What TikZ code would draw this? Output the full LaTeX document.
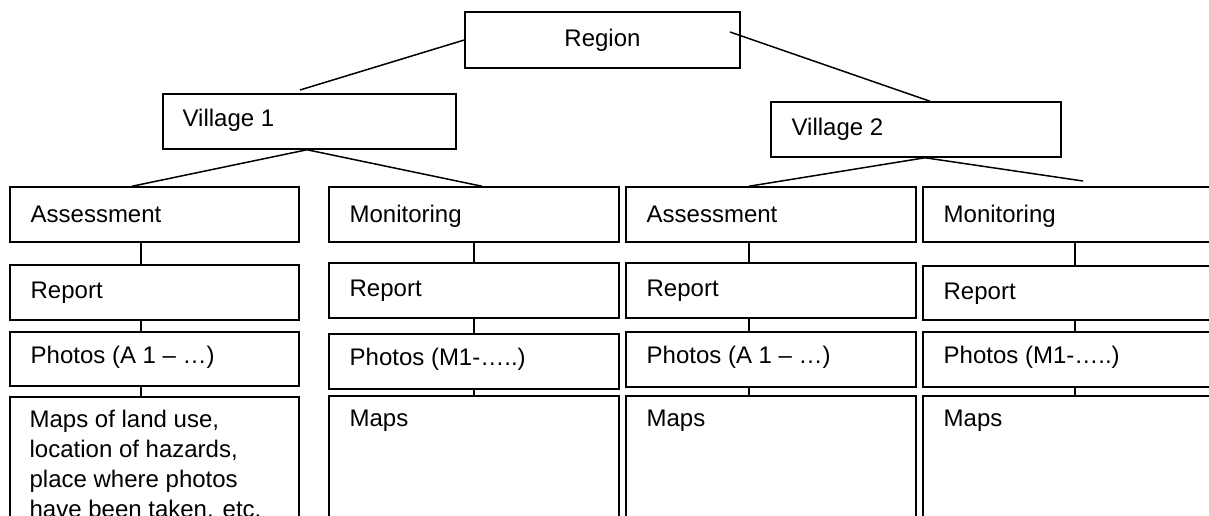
\documentclass[tikz,border=0pt]{standalone}
\usepackage{fontspec}
\setmainfont{Liberation Sans}
\usetikzlibrary{fit}
\begin{document}
\begin{tikzpicture}[x=0.5pt,y=-0.5pt,
  cell/.style={draw, line width=0.75pt, inner sep=0pt, rectangle},
  txt/.style={anchor=base west, inner sep=0pt, font=\fontsize{12}{15}\selectfont},
  link/.style={line width=0.75pt}]
\useasboundingbox (0,0) rectangle (1209,515);
\clip (0,0) rectangle (1209,515);

% top levels
\node[cell, fit={(465,12) (740,68)}] (reg) {};
\node[cell, fit={(163,94) (456,149)}] (v1) {};
\node[cell, fit={(771,102) (1061,157)}] (v2) {};

% column 1 (Village 1, assessment)
\node[cell, fit={(10,187) (299,242)}] (a1) {};
\node[cell, fit={(10,265) (299,320)}] (r1) {};
\node[cell, fit={(10,332) (299,386)}] (p1) {};
\node[cell, fit={(10,397) (299,540)}] (q1) {};
% column 2 (Village 1, monitoring)
\node[cell, fit={(329,187) (619,242)}] (a2) {};
\node[cell, fit={(329,263) (619,318)}] (r2) {};
\node[cell, fit={(329,334) (619,389)}] (p2) {};
\node[cell, fit={(329,396) (619,540)}] (q2) {};
% column 3 (Village 2, assessment)
\node[cell, fit={(626,187) (916,242)}] (a3) {};
\node[cell, fit={(626,263) (916,318)}] (r3) {};
\node[cell, fit={(626,332) (916,387)}] (p3) {};
\node[cell, fit={(626,396) (916,540)}] (q3) {};
% column 4 (Village 2, monitoring)
\node[cell, fit={(923,187) (1215,242)}] (a4) {};
\node[cell, fit={(923,266) (1215,320)}] (r4) {};
\node[cell, fit={(923,332) (1215,387)}] (p4) {};
\node[cell, fit={(923,396) (1215,540)}] (q4) {};

% labels
\node[txt, anchor=base] (treg) at ([yshift=-17.5pt]reg.north) {Region};
\node[txt] (tv1) at ([shift={(10pt,-16.5pt)}]v1.north west) {Village 1};
\node[txt] (tv2) at ([shift={(10.5pt,-17pt)}]v2.north west) {Village 2};
\foreach \c in {1,3} {
  \node[txt] (ta\c) at ([shift={(10.5pt,-18pt)}]a\c.north west) {Assessment};
  \node[txt] (tp\c) at ([shift={(10.5pt,-16pt)}]p\c.north west) {Photos (A 1 – …)};
}
\foreach \c in {2,4} {
  \node[txt] (ta\c) at ([shift={(10.5pt,-18pt)}]a\c.north west) {Monitoring};
  \node[txt] (tp\c) at ([shift={(10.5pt,-16pt)}]p\c.north west) {Photos (M1-…..)};
  \node[txt] (tq\c) at ([shift={(10.5pt,-15.5pt)}]q\c.north west) {Maps};
}
\foreach \c in {1,...,4}
  \node[txt] (tr\c) at ([shift={(10.5pt,-17.2pt)}]r\c.north west) {Report};
\node[txt] (tq3) at ([shift={(10.5pt,-15.5pt)}]q3.north west) {Maps};
\node[txt] (tq1) at ([shift={(10pt,-15.5pt)}]q1.north west)
  {\parbox[t]{140pt}{\raggedright Maps of land use,\\location of hazards,\\place where photos\\have been taken. etc.}};

% branch points
\coordinate (rl) at (300,90);
\coordinate (rr) at (730,32);
\coordinate (v2in) at (930,0);
\coordinate (v1out) at (307,0);
\coordinate (v2out) at (925,0);
\coordinate (k1) at (132,0);
\coordinate (k2) at (482,0);
\coordinate (k3) at (749,0);
\coordinate (k4) at (1083,181);

\draw[link] (reg.west) -- (rl);
\draw[link] (rr) -- (v2in |- v2.north);
\draw[link] (v1out |- v1.south) -- (k1 |- a1.north);
\draw[link] (v1out |- v1.south) -- (k2 |- a2.north);
\draw[link] (v2out |- v2.south) -- (k3 |- a3.north);
\draw[link] (v2out |- v2.south) -- (k4);

% vertical spines of the four columns
\coordinate (s1) at (141,0);
\coordinate (s2) at (474,0);
\coordinate (s3) at (749,0);
\coordinate (s4) at (1075,0);
\foreach \c in {1,...,4} {
  \draw[link] (s\c |- a\c.south) -- (s\c |- r\c.north);
  \draw[link] (s\c |- r\c.south) -- (s\c |- p\c.north);
  \draw[link] (s\c |- p\c.south) -- (s\c |- q\c.north);
}
\end{tikzpicture}
\end{document}
